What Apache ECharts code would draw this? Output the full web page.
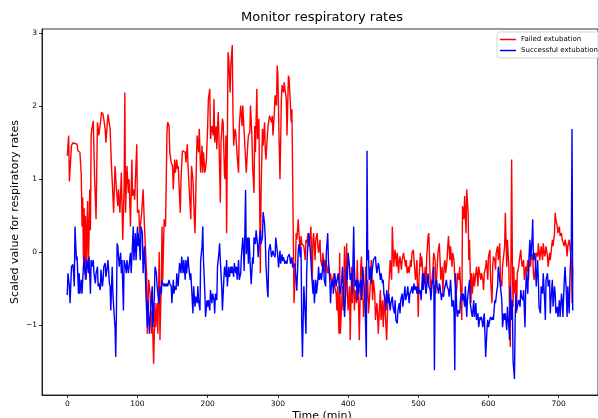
<!DOCTYPE html>
<html>
<head>
<meta charset="utf-8">
<script src="https://cdn.jsdelivr.net/npm/echarts@6/dist/echarts.min.js"></script>
<style>html,body{margin:0;padding:0;background:#fff}#c{width:598px;height:418px}</style>
</head>
<body>
<div id="c"></div>
<script>
const chartTitle = 'Monitor respiratory rates';
const xTitle = 'Time (min)';
const yTitle = 'Scaled value for respiratory rates';
const seriesNames = ['Failed extubation', 'Successful extubation'];
const xTicks = [0, 100, 200, 300, 400, 500, 600, 700];
const yTicks = [-1, 0, 1, 2, 3];

// [time (min), scaled value]
const failed = [[0,1.32],[2,1.60],[3,0.97],[6,1.46],[8,1.50],[11,1.49],[14,1.48],[15,1.39],[18,1.37],[20,1.04],[21,0.35],[22,0.75],[23,-0.10],[24,0.60],[25,-0.30],[26,0.50],[27,-0.38],[28,0.30],[29,0.70],[30,-0.20],[31,0.20],[32,0.86],[33,0.30],[34,1.60],[35,1.69],[37,1.80],[39,1.00],[41,0.45],[43,1.78],[45,1.60],[49,1.92],[51,1.89],[54,1.69],[55,1.50],[58,1.89],[61,1.69],[63,1.18],[65,0.77],[66,0.54],[68,1.18],[70,0.86],[72,0.63],[73,0.86],[75,0.54],[77,1.09],[79,0.17],[81,0.91],[82,2.19],[83,0.54],[85,1.18],[87,0.81],[88,1.00],[90,0.35],[92,1.27],[93,0.77],[95,0.86],[96,0.72],[99,1.48],[100,0.54],[102,0.58],[103,0.26],[106,0.54],[108,0.86],[110,0.35],[113,-0.29],[114,-1.12],[116,-0.38],[118,-0.57],[120,-1.12],[121,-0.80],[123,-1.53],[125,-0.70],[126,-1.03],[128,-0.70],[129,-1.12],[131,0.00],[132,-1.21],[134,-0.38],[135,0.35],[136,-0.38],[138,0.45],[140,0.35],[142,1.64],[143,1.78],[145,1.73],[146,1.37],[148,1.23],[150,1.18],[151,0.86],[153,1.27],[154,1.09],[156,1.27],[157,1.14],[158,1.18],[159,1.18],[161,0.54],[162,1.00],[164,1.39],[166,1.37],[168,1.37],[169,1.23],[171,1.48],[172,1.18],[174,1.18],[176,0.45],[177,1.18],[179,1.00],[181,0.45],[182,0.26],[184,1.27],[185,1.60],[187,1.37],[188,1.69],[190,1.09],[192,1.46],[193,1.09],[194,1.37],[196,1.09],[198,1.23],[200,1.73],[201,2.10],[203,2.24],[204,1.55],[206,1.73],[208,1.60],[209,2.10],[210,1.50],[212,1.73],[213,1.41],[215,1.92],[216,1.60],[218,0.68],[219,1.50],[221,1.83],[222,1.78],[224,1.04],[225,1.00],[226,1.60],[227,0.26],[229,2.74],[230,2.65],[232,2.19],[233,2.56],[235,2.84],[236,1.92],[237,1.46],[239,1.69],[240,1.64],[242,1.32],[244,1.09],[245,1.73],[247,2.01],[249,1.73],[250,2.01],[252,1.64],[254,1.27],[255,1.09],[257,1.46],[258,1.60],[260,1.64],[261,2.01],[263,1.60],[264,1.18],[266,0.81],[267,1.73],[268,1.37],[270,2.24],[271,1.55],[273,1.83],[274,0.72],[275,-0.29],[276,0.81],[278,1.69],[279,1.46],[281,1.78],[282,1.41],[283,1.27],[285,1.60],[286,1.73],[288,1.87],[289,1.87],[291,1.78],[292,1.87],[293,1.60],[295,1.92],[296,2.15],[298,2.01],[299,2.56],[300,2.42],[302,1.41],[303,1.00],[305,2.10],[306,2.29],[308,2.19],[309,2.33],[310,2.24],[312,2.10],[313,1.60],[315,2.42],[316,2.38],[317,2.19],[319,1.78],[320,1.96],[322,0.17],[323,-0.70],[325,-0.20],[326,0.26],[327,0.17],[329,0.45],[330,0.26],[332,-0.01],[333,0.22],[334,0.12],[336,0.12],[337,0.08],[339,-0.11],[340,0.17],[341,0.12],[343,0.26],[344,0.08],[346,0.22],[347,0.35],[349,-0.38],[350,0.17],[351,0.26],[353,-0.11],[354,0.17],[356,0.26],[357,0.08],[358,-0.01],[360,0.17],[361,-0.11],[363,-0.20],[364,-0.01],[366,-0.15],[367,-0.29],[368,-0.11],[370,-0.20],[371,-0.29],[373,-0.20],[374,-0.38],[375,-0.29],[377,-0.47],[378,-0.38],[380,-0.29],[381,-0.47],[383,-0.57],[384,-0.80],[385,-0.47],[387,-1.12],[388,-0.01],[389,-1.12],[391,-0.66],[392,-0.47],[393,-0.80],[395,0.08],[396,-0.66],[398,0.12],[399,-0.57],[400,-0.80],[402,-0.47],[403,-1.21],[405,-0.20],[406,-0.70],[408,-0.20],[409,-0.80],[410,-0.52],[412,-0.70],[413,-0.11],[415,-0.75],[416,-1.21],[418,-0.20],[419,-0.06],[421,-0.57],[422,-0.89],[424,-0.57],[425,-0.20],[426,-0.70],[428,-0.38],[429,-0.84],[431,-0.57],[432,-0.38],[433,-0.11],[435,-0.66],[436,-0.38],[438,-0.57],[439,-0.93],[441,-0.70],[442,-0.84],[443,-1.12],[445,-0.70],[446,-0.52],[447,-0.93],[449,-0.66],[450,-1.03],[452,-0.57],[453,-0.84],[455,-1.21],[456,-0.84],[458,-0.47],[459,-0.29],[460,-0.11],[462,-0.38],[463,0.35],[465,-0.20],[466,-0.06],[467,0.03],[469,-0.20],[470,-0.01],[472,-0.29],[473,-0.11],[474,-0.06],[476,-0.24],[477,-0.11],[479,-0.01],[480,-0.01],[482,-0.20],[483,-0.11],[484,-0.29],[486,-0.20],[487,-0.29],[489,-0.11],[490,-0.20],[491,-0.01],[493,0.03],[494,-0.11],[496,-0.38],[497,-0.29],[498,-0.11],[500,-0.89],[501,-0.38],[503,-0.01],[504,-0.20],[505,-0.06],[507,-0.38],[508,-0.43],[510,-0.20],[511,-0.57],[512,-0.06],[514,0.22],[515,0.26],[517,-0.38],[518,-0.57],[520,-0.34],[521,-0.20],[522,-0.01],[524,-0.11],[525,-0.57],[527,-0.20],[528,-0.01],[530,0.12],[531,-0.11],[532,-0.38],[534,-0.20],[535,-0.57],[537,-0.15],[538,-0.11],[539,-0.29],[541,-0.11],[542,0.08],[543,0.22],[545,-0.11],[546,0.08],[548,-0.20],[549,-0.01],[551,-0.11],[552,-0.38],[554,-0.57],[555,-0.47],[556,-0.29],[558,-0.38],[559,-0.20],[561,-0.66],[562,-0.93],[563,0.63],[565,0.45],[566,0.77],[568,0.26],[569,0.86],[571,0.54],[572,-0.11],[573,0.17],[575,-0.70],[576,-0.29],[577,-0.57],[579,-0.29],[580,-0.47],[582,-0.29],[583,-0.20],[585,-0.47],[586,-0.20],[588,-0.20],[589,-0.38],[590,-0.29],[592,-0.38],[593,-0.52],[594,-0.29],[596,-0.20],[597,-0.11],[599,-0.38],[600,-0.06],[602,0.03],[603,-0.38],[605,-0.70],[606,-0.20],[607,-0.06],[609,-0.11],[610,-0.24],[611,-0.01],[613,0.08],[614,-0.11],[616,0.12],[617,-0.38],[619,-0.47],[620,-0.20],[622,-0.20],[623,0.08],[624,0.54],[626,-0.20],[627,0.17],[629,-0.20],[630,-0.84],[631,-1.30],[632,-0.11],[633,1.27],[634,-0.11],[635,-0.75],[636,-0.20],[637,-0.57],[639,-0.38],[640,-0.84],[641,-0.29],[643,-0.20],[644,-0.11],[646,0.03],[647,-0.11],[648,-0.20],[650,-0.11],[651,-0.38],[653,-0.20],[654,-0.29],[656,-0.11],[657,-0.38],[658,-0.11],[660,-0.20],[661,-0.01],[663,-0.06],[664,-0.29],[665,-0.38],[667,-0.20],[668,-0.01],[670,-0.06],[671,0.12],[673,-0.11],[674,-0.01],[675,0.08],[677,-0.11],[678,0.12],[680,-0.06],[681,-0.01],[682,0.08],[684,-0.06],[685,-0.20],[687,-0.01],[688,-0.11],[689,-0.11],[691,0.17],[692,0.08],[694,0.26],[695,0.54],[696,0.45],[698,0.35],[699,0.26],[701,0.35],[702,0.22],[704,0.26],[705,0.17],[706,0.17],[708,0.08],[709,0.17],[711,0.08],[712,-0.06],[713,0.08],[715,0.17],[716,0.17],[718,-0.11],[719,-0.70],[720,-0.20]];

const successful = [[0,-0.59],[1,-0.29],[3,-0.47],[4,-0.70],[6,-0.20],[8,-0.17],[9,-0.29],[10,-0.47],[11,0.35],[13,-0.11],[14,-0.06],[16,-0.57],[17,-0.29],[18,-0.57],[20,-0.38],[21,-0.57],[23,-0.20],[24,-0.06],[26,-0.38],[27,-0.24],[28,-0.11],[30,-0.29],[31,-0.06],[33,-0.57],[34,-0.11],[35,-0.20],[37,-0.11],[38,-0.29],[40,-0.43],[41,-0.29],[43,-0.20],[44,-0.47],[45,-0.43],[47,-0.52],[48,-0.24],[50,-0.47],[51,-0.38],[52,-0.20],[54,-0.15],[55,-0.34],[57,-0.20],[58,-0.11],[60,-0.43],[61,-0.47],[62,-0.80],[64,-0.20],[65,-0.57],[67,-0.89],[68,-1.03],[69,-1.44],[70,-0.84],[71,0.12],[72,0.08],[73,-0.06],[74,-0.20],[76,-0.01],[77,-0.29],[78,-0.11],[80,-0.80],[81,-0.11],[83,-0.20],[84,-0.29],[85,-0.11],[87,-0.29],[88,-0.20],[90,-0.01],[91,-0.29],[93,0.12],[94,0.35],[95,-0.11],[97,0.26],[98,-0.11],[100,0.35],[101,0.08],[102,0.26],[104,-0.11],[105,0.35],[107,0.26],[108,-0.29],[110,0.08],[111,-0.20],[112,-0.57],[114,-1.03],[115,-0.66],[117,-1.12],[118,-0.93],[119,-0.75],[121,-0.47],[122,-1.03],[124,-0.61],[125,-0.20],[127,-0.29],[128,-0.47],[129,-0.57],[131,-0.70],[132,-0.47],[134,-0.57],[135,-0.38],[136,-0.43],[138,-0.47],[139,-0.43],[141,-0.47],[142,-0.43],[143,-0.47],[145,-0.38],[146,-0.43],[148,-0.47],[149,-0.70],[151,-0.38],[152,-0.57],[153,-0.47],[155,-0.52],[156,-0.29],[157,-0.38],[158,-0.47],[159,-0.29],[160,-0.15],[162,-0.29],[163,-0.06],[165,-0.29],[166,-0.11],[168,-0.38],[169,-0.11],[170,-0.29],[172,-0.06],[173,-0.20],[175,-0.38],[176,-0.29],[177,-0.47],[179,-0.84],[180,-0.47],[182,-0.75],[183,-0.61],[185,-0.70],[186,-0.47],[187,-0.66],[189,-0.80],[190,-0.11],[192,0.08],[193,0.35],[194,-0.11],[196,-0.57],[197,-0.89],[199,-0.66],[200,-0.75],[201,-0.66],[203,-0.80],[204,-0.52],[206,-0.70],[207,-0.57],[209,-0.66],[210,-0.84],[211,-0.57],[213,-0.66],[214,-0.20],[216,-0.01],[217,0.12],[218,-0.11],[220,-0.47],[221,-0.80],[223,-0.38],[224,-0.20],[226,-0.34],[227,-0.11],[228,-0.47],[230,-0.20],[231,-0.34],[233,-0.20],[234,-0.29],[235,-0.20],[237,-0.34],[238,-0.15],[240,-0.29],[241,-0.20],[242,-0.38],[244,-0.11],[245,-0.38],[247,-0.29],[248,-0.06],[250,0.20],[251,0.02],[252,-0.26],[254,0.85],[255,-0.03],[257,0.20],[258,-0.16],[259,0.20],[261,-0.26],[262,-0.44],[264,-0.07],[265,-0.16],[266,0.20],[268,0.11],[269,0.30],[271,0.11],[272,-0.07],[274,0.20],[275,0.30],[276,0.11],[278,0.20],[279,0.55],[281,0.39],[282,0.20],[283,-0.16],[285,-0.53],[286,-0.62],[287,0.02],[289,0.11],[290,0.02],[291,-0.07],[293,0.02],[294,-0.03],[296,-0.07],[297,0.20],[299,0.02],[300,-0.07],[301,-0.21],[303,0.02],[304,-0.16],[306,-0.03],[307,-0.12],[308,-0.07],[310,-0.16],[311,-0.12],[313,-0.16],[314,-0.07],[316,-0.03],[317,-0.07],[318,-0.16],[320,-0.07],[321,-0.21],[323,-0.21],[324,-0.16],[325,-0.26],[327,-0.53],[329,0.02],[330,0.11],[332,-0.07],[333,0.07],[334,-0.98],[335,-1.44],[337,-0.47],[338,-0.66],[340,-1.12],[341,-0.29],[342,-0.01],[344,0.26],[345,0.17],[347,-0.11],[348,-0.29],[350,-0.57],[351,-0.38],[352,-0.70],[354,-0.38],[355,-0.57],[357,-0.38],[358,-0.20],[359,-0.38],[361,-0.29],[362,-0.38],[364,-0.38],[365,-0.11],[366,-0.38],[368,-0.47],[369,-0.01],[371,0.26],[372,-0.11],[374,-0.38],[375,-0.70],[376,-0.47],[378,-0.38],[379,-0.57],[381,-0.29],[382,-0.38],[383,-0.47],[385,-0.34],[386,-0.29],[388,-0.52],[389,-0.57],[391,-0.38],[392,-0.20],[393,-0.47],[395,-0.89],[396,-0.66],[398,-0.20],[399,-0.38],[400,-0.01],[402,-0.20],[403,-0.38],[405,-0.29],[406,-0.57],[408,0.35],[409,-0.20],[410,-0.47],[412,-0.38],[413,-0.66],[414,-0.38],[415,-0.57],[416,-0.47],[418,-0.38],[419,-0.66],[421,-0.20],[422,-0.38],[424,-0.66],[425,-1.03],[426,-1.44],[427,1.39],[428,-0.11],[429,0.03],[430,-0.38],[432,-0.20],[433,-0.43],[434,-0.29],[436,-0.11],[437,-0.11],[439,-0.06],[440,-0.20],[441,-0.29],[443,-0.15],[444,-0.20],[446,-0.38],[447,-0.29],[449,-0.43],[450,-0.38],[451,-0.57],[453,-0.66],[454,-0.80],[455,-0.52],[457,-0.70],[458,-0.57],[460,-0.80],[461,-0.70],[463,-0.61],[464,-0.75],[466,-0.84],[467,-0.66],[468,-0.93],[470,-0.98],[471,-0.80],[473,-0.70],[474,-0.84],[475,-0.66],[477,-0.57],[478,-0.75],[480,-0.57],[481,-0.47],[482,-0.66],[484,-0.57],[485,-0.47],[487,-0.70],[488,-0.57],[490,-0.52],[491,-0.47],[492,-0.57],[494,-0.43],[495,-0.52],[497,-0.47],[498,-0.57],[500,-0.47],[501,-0.57],[503,-0.52],[504,-0.66],[506,-0.29],[507,-0.52],[508,-0.29],[510,-0.47],[511,-0.57],[513,-0.38],[514,-0.29],[515,-0.47],[517,-0.52],[518,-0.66],[520,-0.38],[521,-0.43],[522,-0.20],[523,-1.62],[524,-0.47],[526,-0.38],[527,-0.47],[529,-0.57],[530,-0.43],[531,-0.47],[533,-0.66],[534,-0.57],[536,-0.61],[537,-0.52],[539,-0.43],[540,-0.38],[541,-0.47],[543,-0.52],[544,-0.61],[546,-0.38],[547,-0.57],[548,-0.75],[550,-0.66],[551,-0.84],[552,-1.62],[553,-0.29],[555,-0.84],[556,-0.89],[557,-0.80],[559,-0.84],[560,-0.66],[562,-0.57],[563,-0.66],[564,-0.57],[566,-0.75],[567,-0.47],[569,-0.89],[570,-0.66],[572,-0.47],[573,-0.38],[574,-0.70],[576,-0.84],[577,-0.89],[579,-0.66],[580,-0.89],[581,-0.89],[582,-0.70],[583,-0.93],[585,-0.84],[586,-1.03],[588,-0.89],[589,-0.93],[590,-0.89],[592,-1.03],[593,-0.93],[594,-0.84],[596,-1.44],[598,-1.03],[599,-0.93],[600,-1.03],[602,-0.93],[603,-0.89],[605,-0.93],[606,-0.89],[607,-0.93],[609,-0.66],[610,-0.70],[612,-0.52],[613,-0.47],[614,-0.20],[616,-0.38],[617,-0.47],[619,-0.66],[620,-1.03],[622,-0.84],[623,-0.93],[624,-0.84],[626,-1.07],[627,-0.75],[629,-1.03],[630,-1.21],[631,-0.47],[633,-0.93],[634,-0.66],[635,-1.49],[637,-1.74],[638,-0.93],[639,-0.57],[640,-0.80],[642,-0.70],[643,-0.66],[645,-0.75],[646,-0.52],[647,-0.61],[649,-0.66],[650,-0.52],[652,-1.03],[653,-0.52],[654,-0.29],[656,-0.57],[657,-0.20],[659,0.17],[660,-0.11],[662,0.17],[663,0.45],[664,-0.11],[666,-0.01],[667,-0.20],[668,-0.47],[670,-0.11],[671,-0.38],[672,-0.75],[674,-0.84],[675,-0.47],[677,-0.57],[678,-0.29],[680,-0.66],[681,-0.93],[682,-0.38],[684,-0.29],[685,-0.47],[687,-0.38],[688,-0.84],[689,-0.66],[691,-0.38],[692,-0.75],[694,-0.47],[695,-0.57],[696,-0.84],[698,-0.75],[699,-0.89],[701,-0.66],[702,-0.89],[704,-0.57],[705,-0.66],[706,-0.89],[708,-0.38],[709,-0.20],[711,-0.57],[712,-0.89],[713,-0.47],[715,-0.84],[716,-0.38],[718,0.17],[719,1.69],[720,-0.80]];

const FONT = '"DejaVu Sans", sans-serif';
const chart = echarts.init(document.getElementById('c'), null, {renderer: 'canvas'});
const fmtMinus = v => (v < 0 ? '\u2212' + Math.abs(v) : String(v));

chart.setOption({
  animation: false,
  backgroundColor: '#ffffff',
  grid: {left: 42, right: -5, top: 29, bottom: 23, show: true, borderColor: '#000', borderWidth: 0.8, backgroundColor: 'transparent'},
  legend: {
    orient: 'vertical', left: 497, top: 32,
    itemWidth: 16, itemHeight: 1.5, itemGap: 4,
    padding: [4, 5, 4, 3],
    borderColor: '#cccccc', borderWidth: 0.8, borderRadius: 2,
    backgroundColor: 'rgba(255,255,255,0.8)',
    textStyle: {fontFamily: FONT, fontSize: 7, color: '#000'},
    data: seriesNames.map(n => ({name: n, icon: 'rect'}))
  },
  xAxis: {
    type: 'value', min: -36, max: 756,
    axisLine: {show: true, onZero: false, lineStyle: {color: '#000', width: 0.8}},
    axisTick: {show: true, customValues: xTicks, length: 3, lineStyle: {color: '#000', width: 0.8}},
    axisLabel: {customValues: xTicks, fontFamily: FONT, fontSize: 7.5, color: '#000', margin: 5},
    splitLine: {show: false}
  },
  yAxis: {
    type: 'value', min: -1.96, max: 3.06,
    axisLine: {show: true, onZero: false, lineStyle: {color: '#000', width: 0.8}},
    axisTick: {show: true, customValues: yTicks, length: 3, lineStyle: {color: '#000', width: 0.8}},
    axisLabel: {customValues: yTicks, fontFamily: FONT, fontSize: 7.5, color: '#000', margin: 5, formatter: fmtMinus},
    splitLine: {show: false}
  },
  graphic: [
    {type: 'text', x: 322, y: 18, style: {text: chartTitle, font: '13px ' + FONT, fill: '#000', textAlign: 'center', textVerticalAlign: 'middle', align: 'center', verticalAlign: 'middle'}},
    {type: 'text', x: 15, y: 212, rotation: Math.PI / 2, style: {text: yTitle, font: '11px ' + FONT, fill: '#000', textAlign: 'center', textVerticalAlign: 'middle', align: 'center', verticalAlign: 'middle'}},
    {type: 'text', x: 322, y: 416, style: {text: xTitle, font: '11px ' + FONT, fill: '#000', textAlign: 'center', textVerticalAlign: 'middle', align: 'center', verticalAlign: 'middle'}}
  ],
  series: [
    {name: seriesNames[0], type: 'line', data: failed, symbol: 'none', showSymbol: false, lineStyle: {color: '#ff0000', width: 1.4}, itemStyle: {color: '#ff0000'}},
    {name: seriesNames[1], type: 'line', data: successful, symbol: 'none', showSymbol: false, lineStyle: {color: '#0000ff', width: 1.4}, itemStyle: {color: '#0000ff'}}
  ]
});
</script>
</body>
</html>
